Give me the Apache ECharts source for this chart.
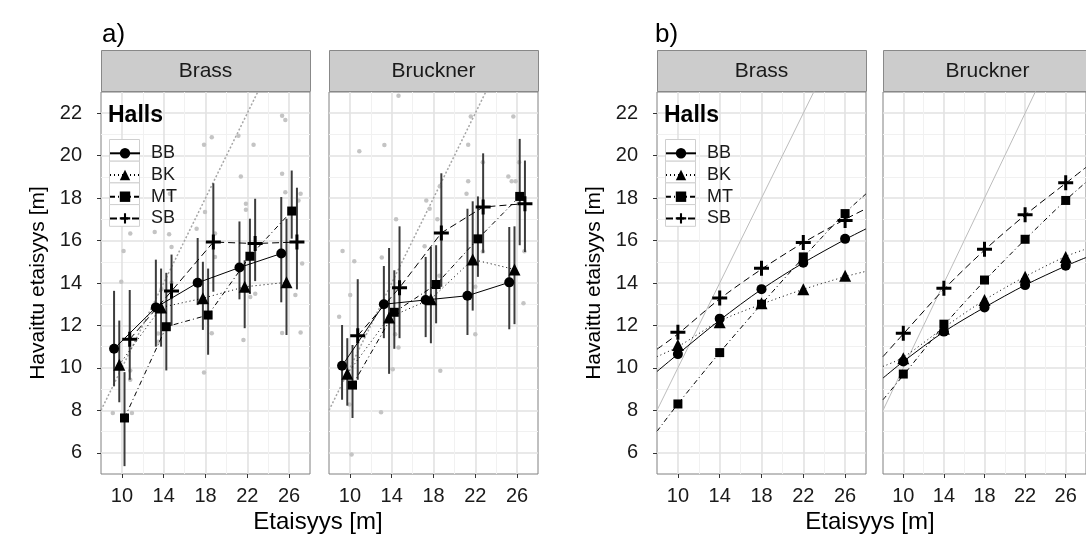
<!DOCTYPE html>
<html>
<head>
<meta charset="utf-8">
<script src="https://cdn.jsdelivr.net/npm/echarts@6/dist/echarts.min.js"></script>
<style>
html, body { margin: 0; background: #fff; }
#main { width: 1086px; height: 538px; }
</style>
</head>
<body>
<div id="main"></div>
<script>
var distances = [10, 14, 18, 22, 26];
var halls = ['BB', 'BK', 'MT', 'SB'];
var xTicks = [10, 14, 18, 22, 26];
var yTicks = [6, 8, 10, 12, 14, 16, 18, 20, 22];

// a) keskiarvot ja virhepalkit, rivit: BB, BK, MT, SB
var aBrassMean = [[10.9, 12.85, 14.01, 14.73, 15.39], [10.15, 12.85, 13.28, 13.82, 14.03], [7.64, 11.94, 12.49, 15.26, 17.39], [11.35, 13.62, 15.93, 15.86, 15.93]];
var aBrassLow = [[9.13, 11.0, 12.96, 13.23, 13.09], [8.38, 11.0, 11.79, 11.87, 11.55], [5.37, 9.88, 10.62, 13.48, 16.09], [9.44, 11.98, 13.59, 14.09, 13.7]];
var aBrassHigh = [[13.63, 15.1, 16.12, 16.9, 18.05], [12.23, 14.68, 15.0, 15.07, 17.03], [9.8, 14.48, 14.68, 17.03, 19.3], [13.67, 15.34, 18.7, 17.97, 18.49]];
var aBrucknerMean = [[10.1, 13.0, 13.2, 13.4, 14.03], [9.72, 12.38, 13.24, 15.11, 14.64], [9.19, 12.62, 13.93, 16.08, 18.08], [11.52, 13.78, 16.36, 17.58, 17.74]];
var aBrucknerLow = [[8.5, 11.4, 11.45, 11.55, 11.82], [8.22, 9.72, 11.16, 12.7, 12.06], [7.64, 10.9, 12.1, 14.29, 15.78], [9.44, 11.4, 13.82, 15.42, 15.46]];
var aBrucknerHigh = [[12.02, 14.8, 15.23, 17.5, 16.64], [11.4, 15.65, 15.7, 17.85, 16.67], [11.08, 14.6, 15.78, 18.08, 20.79], [14.18, 16.67, 19.17, 20.11, 19.77]];

// a) yksittaiset havainnot
var aBrassRaw = [[9.13,7.88],[10.96,7.88],[10.16,15.51],[9.94,14.06],[10.8,16.33],[10.8,9.88],[10.8,9.44],[13.46,11.23],[13.46,11.62],[13.14,16.4],[14.52,16.3],[14.59,18.2],[14.75,15.7],[14.75,14.01],[13.79,13.7],[13.46,12.88],[17.86,20.52],[18.6,20.87],[17.15,16.56],[17.95,17.34],[18.91,15.23],[18.91,16.33],[17.86,9.78],[18.6,11.63],[21.15,20.94],[22.6,20.52],[21.38,19.02],[21.87,17.74],[21.87,17.45],[21.63,11.31],[22.28,13.34],[22.76,13.49],[25.33,21.88],[25.64,21.68],[25.33,19.15],[25.64,18.28],[26.9,17.89],[27.1,18.2],[27.25,14.92],[26.6,13.43],[25.33,11.64],[27.1,11.67]];
var aBrucknerRaw = [[14.65,22.82],[10.9,20.21],[13.3,20.5],[9.3,15.51],[10.42,15.03],[10.03,13.43],[8.97,12.41],[12.98,7.91],[10.16,5.92],[9.95,8.27],[13.05,15.2],[14.42,17.0],[14.33,11.58],[14.65,10.96],[14.1,9.94],[17.15,15.73],[17.31,17.89],[17.63,17.5],[18.37,17.0],[18.6,18.56],[18.65,9.86],[18.57,14.34],[21.32,20.51],[21.57,21.84],[21.32,18.8],[21.16,18.2],[22.0,13.82],[22.0,11.58],[22.72,19.69],[22.72,15.48],[25.64,21.84],[25.16,19.02],[25.48,18.8],[25.86,18.8],[26.19,19.69],[26.7,15.5],[26.61,13.04]];

// b) mallin ennusteet pisteina ja kayrina
var bBrassPoints = [[10.65, 12.32, 13.71, 14.95, 16.08], [11.08, 12.15, 13.04, 13.71, 14.34], [8.3, 10.72, 13.0, 15.23, 17.27], [11.68, 13.29, 14.69, 15.91, 16.95]];
var bBrucknerPoints = [[10.3, 11.71, 12.85, 13.9, 14.81], [10.46, 11.84, 13.2, 14.29, 15.23], [9.71, 12.06, 14.14, 16.06, 17.89], [11.63, 13.75, 15.59, 17.22, 18.72]];
var curveX = [8, 10, 14, 18, 22, 26, 28];
var bBrassCurve = [[9.83, 10.65, 12.25, 13.7, 14.95, 16.05, 16.55], [10.53, 11.0, 12.2, 13.0, 13.7, 14.3, 14.55], [7.01, 8.3, 10.72, 13.0, 15.2, 17.3, 18.2], [10.88, 11.6, 13.25, 14.65, 15.9, 17.0, 17.5]];
var bBrucknerCurve = [[9.52, 10.3, 11.7, 12.85, 13.9, 14.8, 15.2], [10.07, 10.5, 11.9, 13.2, 14.3, 15.25, 15.6], [8.5, 9.65, 12.0, 14.1, 16.05, 17.9, 18.75], [10.53, 11.6, 13.7, 15.55, 17.2, 18.7, 19.45]];
var identity = [[8, 8], [28, 28]];

var font = 'Liberation Sans, Arial, sans-serif';
var plus = 'path://M4,0H6V4H10V6H6V10H4V6H0V4H4Z';
var symbols = ['circle', 'triangle', 'rect', plus];
var symbolSizes = [10, 12, 9, 15];
var lineTypes = ['solid', [1, 3], [5, 3, 1, 3], [7, 4]];
var dodge = [-0.75, -0.25, 0.25, 0.75];
var panelLeft = [101, 329, 657, 883];
var panelW = 209;
var panelTop = 92;
var panelH = 382;

var myChart = echarts.init(document.getElementById('main'));

var grids = [], xAxes = [], yAxes = [], series = [], graphics = [];
for (var g = 0; g < 4; g++) {
    grids.push({left: panelLeft[g], top: panelTop, width: panelW, height: panelH,
        show: true, backgroundColor: '#fff', borderColor: '#808080', borderWidth: 1});
}
for (var g = 0; g < 4; g++) {
    xAxes.push({type: 'value', gridIndex: g, min: 8, max: 28,
        axisLine: {show: false},
        axisTick: {show: true, length: 4, customValues: xTicks, lineStyle: {color: '#333'}},
        axisLabel: {customValues: xTicks, fontSize: 20, color: '#1a1a1a', margin: 12, fontFamily: font},
        splitLine: {show: true, lineStyle: {color: '#e2e2e2', width: 1.6}}
    });
    var ya = {type: 'value', gridIndex: g, min: 5, max: 23,
        axisLine: {show: false},
        axisTick: {show: g == 0 || g == 2, length: 4, customValues: yTicks, lineStyle: {color: '#333'}},
        axisLabel: {show: g == 0 || g == 2, customValues: yTicks, fontSize: 20, color: '#1a1a1a', margin: 19, fontFamily: font},
        splitLine: {show: true, lineStyle: {color: '#e2e2e2', width: 1.6}}
    };
    if (g == 0 || g == 2) {
        ya.name = 'Havaittu etaisyys [m]';
        ya.nameLocation = 'middle';
        ya.nameGap = 52;
        ya.nameTextStyle = {fontSize: 21, color: '#000', fontFamily: font};
    }
    yAxes.push(ya);
}
// apuviivat (minor grid)
for (var g = 0; g < 4; g++) {
    xAxes.push({type: 'value', gridIndex: g, min: 8, max: 28, interval: 4,
        axisLine: {show: false}, axisTick: {show: false}, axisLabel: {show: false},
        splitLine: {show: true, showMinLine: false, showMaxLine: false, lineStyle: {color: '#f1f1f1', width: 1}}
    });
    yAxes.push({type: 'value', gridIndex: g, min: 5, max: 23, interval: 2,
        axisLine: {show: false}, axisTick: {show: false}, axisLabel: {show: false},
        splitLine: {show: true, showMinLine: false, showMaxLine: false, lineStyle: {color: '#f1f1f1', width: 1}}
    });
}

function identitySeries(g, dotted) {
    return {type: 'line', xAxisIndex: g, yAxisIndex: g, data: identity, symbol: 'none', silent: true, z: 2,
        lineStyle: {color: dotted ? '#a5a5a5' : '#bcbcbc', width: dotted ? 1.5 : 1, type: dotted ? [2, 2] : 'solid'}};
}
function rawSeries(g, pts) {
    return {type: 'scatter', xAxisIndex: g, yAxisIndex: g, data: pts, symbolSize: 4.5, silent: true, z: 2,
        itemStyle: {color: '#c4c4c4', opacity: 1}};
}
function errorSeries(g, h, low, high) {
    return {type: 'custom', xAxisIndex: g, yAxisIndex: g, z: 3, silent: true,
        data: distances.map(function (d, i) { return [d + dodge[h], low[i], high[i]]; }),
        renderItem: function (params, api) {
            var p1 = api.coord([api.value(0), api.value(1)]);
            var p2 = api.coord([api.value(0), api.value(2)]);
            return {type: 'line', shape: {x1: p1[0], y1: p1[1], x2: p2[0], y2: p2[1]},
                style: {stroke: '#3c3c3c', lineWidth: 2}};
        }};
}
function meanSeries(g, h, means) {
    return {type: 'line', name: halls[h], xAxisIndex: g, yAxisIndex: g, z: 4,
        data: distances.map(function (d, i) { return [d + dodge[h], means[i]]; }),
        symbol: symbols[h], symbolSize: symbolSizes[h], showAllSymbol: true,
        lineStyle: {color: '#000', width: 1, type: lineTypes[h]},
        itemStyle: {color: '#000', opacity: 1}};
}
function curveSeries(g, h, vals) {
    return {type: 'line', name: halls[h], xAxisIndex: g, yAxisIndex: g, z: 3, smooth: 0.3, symbol: 'none',
        data: curveX.map(function (x, i) { return [x, vals[i]]; }),
        lineStyle: {color: '#000', width: 1, type: lineTypes[h]}};
}
function pointSeries(g, h, vals) {
    return {type: 'scatter', name: halls[h], xAxisIndex: g, yAxisIndex: g, z: 4,
        data: distances.map(function (d, i) { return [d, vals[i]]; }),
        symbol: symbols[h], symbolSize: symbolSizes[h], itemStyle: {color: '#000', opacity: 1}};
}

series.push(identitySeries(0, true), identitySeries(1, true), identitySeries(2, false), identitySeries(3, false));
series.push(rawSeries(0, aBrassRaw), rawSeries(1, aBrucknerRaw));
for (var h = 0; h < 4; h++) {
    series.push(meanSeries(0, h, aBrassMean[h]));
    series.push(meanSeries(1, h, aBrucknerMean[h]));
    series.push(errorSeries(0, h, aBrassLow[h], aBrassHigh[h]));
    series.push(errorSeries(1, h, aBrucknerLow[h], aBrucknerHigh[h]));
    series.push(curveSeries(2, h, bBrassCurve[h]));
    series.push(curveSeries(3, h, bBrucknerCurve[h]));
    series.push(pointSeries(2, h, bBrassPoints[h]));
    series.push(pointSeries(3, h, bBrucknerPoints[h]));
}

// otsikot, paneelien nauhat, selitteen laatikot
var stripNames = ['Brass', 'Bruckner', 'Brass', 'Bruckner'];
for (var g = 0; g < 4; g++) {
    graphics.push({type: 'rect', left: panelLeft[g], top: 50, shape: {width: panelW, height: 41},
        style: {fill: '#cccccc', stroke: '#888', lineWidth: 1}});
    graphics.push({type: 'text', x: panelLeft[g] + panelW / 2, y: 71,
        style: {text: stripNames[g], fill: '#1a1a1a', font: '21px ' + font, textAlign: 'center', textVerticalAlign: 'middle'}});
}
var keyLeft = [109, 665];
for (var k = 0; k < 2; k++) {
    graphics.push({type: 'text', x: keyLeft[k] - 1, y: 116, z: 10,
        style: {text: 'Halls', fill: '#000', font: 'bold 23px ' + font, textVerticalAlign: 'middle'}});
    for (var h = 0; h < 4; h++) {
        graphics.push({type: 'rect', left: keyLeft[k], top: 139 + h * 21.7, z: 5,
            shape: {width: 30, height: 21.7}, style: {fill: '#fff', stroke: '#cfcfcf', lineWidth: 1}});
    }
}
graphics.push({type: 'text', x: 102, y: 35, style: {text: 'a)', fill: '#000', font: '26px ' + font, textVerticalAlign: 'middle'}});
graphics.push({type: 'text', x: 655, y: 35, style: {text: 'b)', fill: '#000', font: '26px ' + font, textVerticalAlign: 'middle'}});
graphics.push({type: 'text', x: 318, y: 522, style: {text: 'Etaisyys [m]', fill: '#000', font: '24px ' + font, textAlign: 'center', textVerticalAlign: 'middle'}});
graphics.push({type: 'text', x: 870, y: 522, style: {text: 'Etaisyys [m]', fill: '#000', font: '24px ' + font, textAlign: 'center', textVerticalAlign: 'middle'}});

function legendAt(left) {
    return {orient: 'vertical', left: left, top: 144.3, padding: 0, itemWidth: 30, itemHeight: 13, itemGap: 3.7,
        selectedMode: false, data: halls, z: 10,
        textStyle: {fontSize: 18, color: '#1a1a1a', fontFamily: font, padding: [0, 0, 0, 6]}};
}

var option = {
    animation: false,
    backgroundColor: '#fff',
    grid: grids,
    xAxis: xAxes,
    yAxis: yAxes,
    legend: [legendAt(keyLeft[0]), legendAt(keyLeft[1])],
    graphic: graphics,
    series: series
};
myChart.setOption(option);
</script>
</body>
</html>
